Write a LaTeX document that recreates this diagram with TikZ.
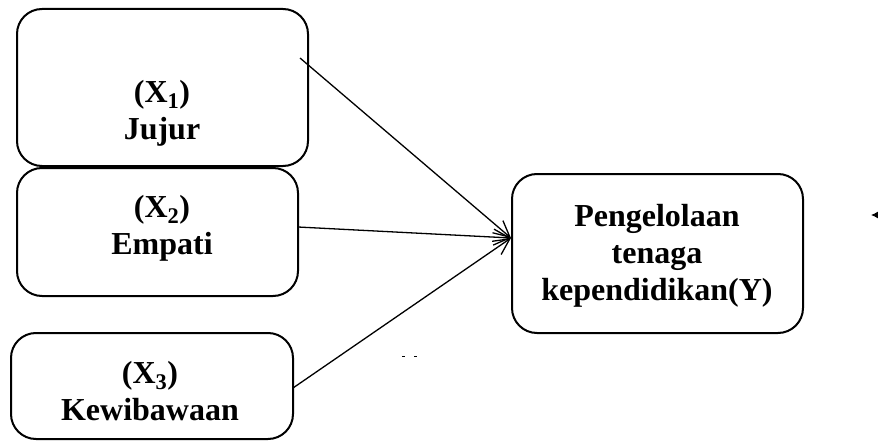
\documentclass[tikz,border=0pt]{standalone}
\usepackage{fontspec}
\setmainfont{Liberation Serif}
\usetikzlibrary{arrows.meta}
\begin{document}
\begin{tikzpicture}[x=1pt,y=-1pt,
  box/.style={draw,line width=2pt,rounded corners=25pt},
  lbl/.style={align=center,font=\fontsize{32}{37}\selectfont\bfseries,inner sep=0pt},
  conn/.style={line width=1.3pt,-{Straight Barb[length=16pt,width=16pt,line width=1.3pt]}}]
\useasboundingbox (0,0) rectangle (878,441);
% boxes
\draw[box] (17,9) rectangle (308,166);
\draw[box] (17,168) rectangle (298,296);
\draw[box] (11,333) rectangle (293,439);
\draw[box] (512,174) rectangle (803,333);
% texts
\node[lbl] (x1) at (162,113) {(X\textsubscript{1})\\Jujur};
\node[lbl] (x2) at (162,228) {(X\textsubscript{2})\\Empati};
\node[lbl] (x3) at (150,391) {(X\textsubscript{3})\\Kewibawaan};
\node[lbl] (y) at (657,256) {Pengelolaan\\tenaga\\kependidikan(Y)};
% connectors
\coordinate (s1) at (300,58);
\coordinate (s2) at (298,227);
\coordinate (s3) at (293,388);
\coordinate (t) at (511,238);
\draw[conn] (s1) -- (t);
\draw[conn] (s2) -- (t);
\draw[conn] (s3) -- (t);
% stray marks
\coordinate (e1) at (878,215);
\coordinate (e2) at (871,215);
\draw[line width=1pt,-{Latex[length=7pt,width=7pt]}] (e1) -- (e2);
\coordinate (d1) at (402,356);
\coordinate (d2) at (405,356);
\coordinate (d3) at (414,356);
\coordinate (d4) at (417,356);
\draw[line width=1pt] (d1) -- (d2);
\draw[line width=1pt] (d3) -- (d4);
\end{tikzpicture}
\end{document}
